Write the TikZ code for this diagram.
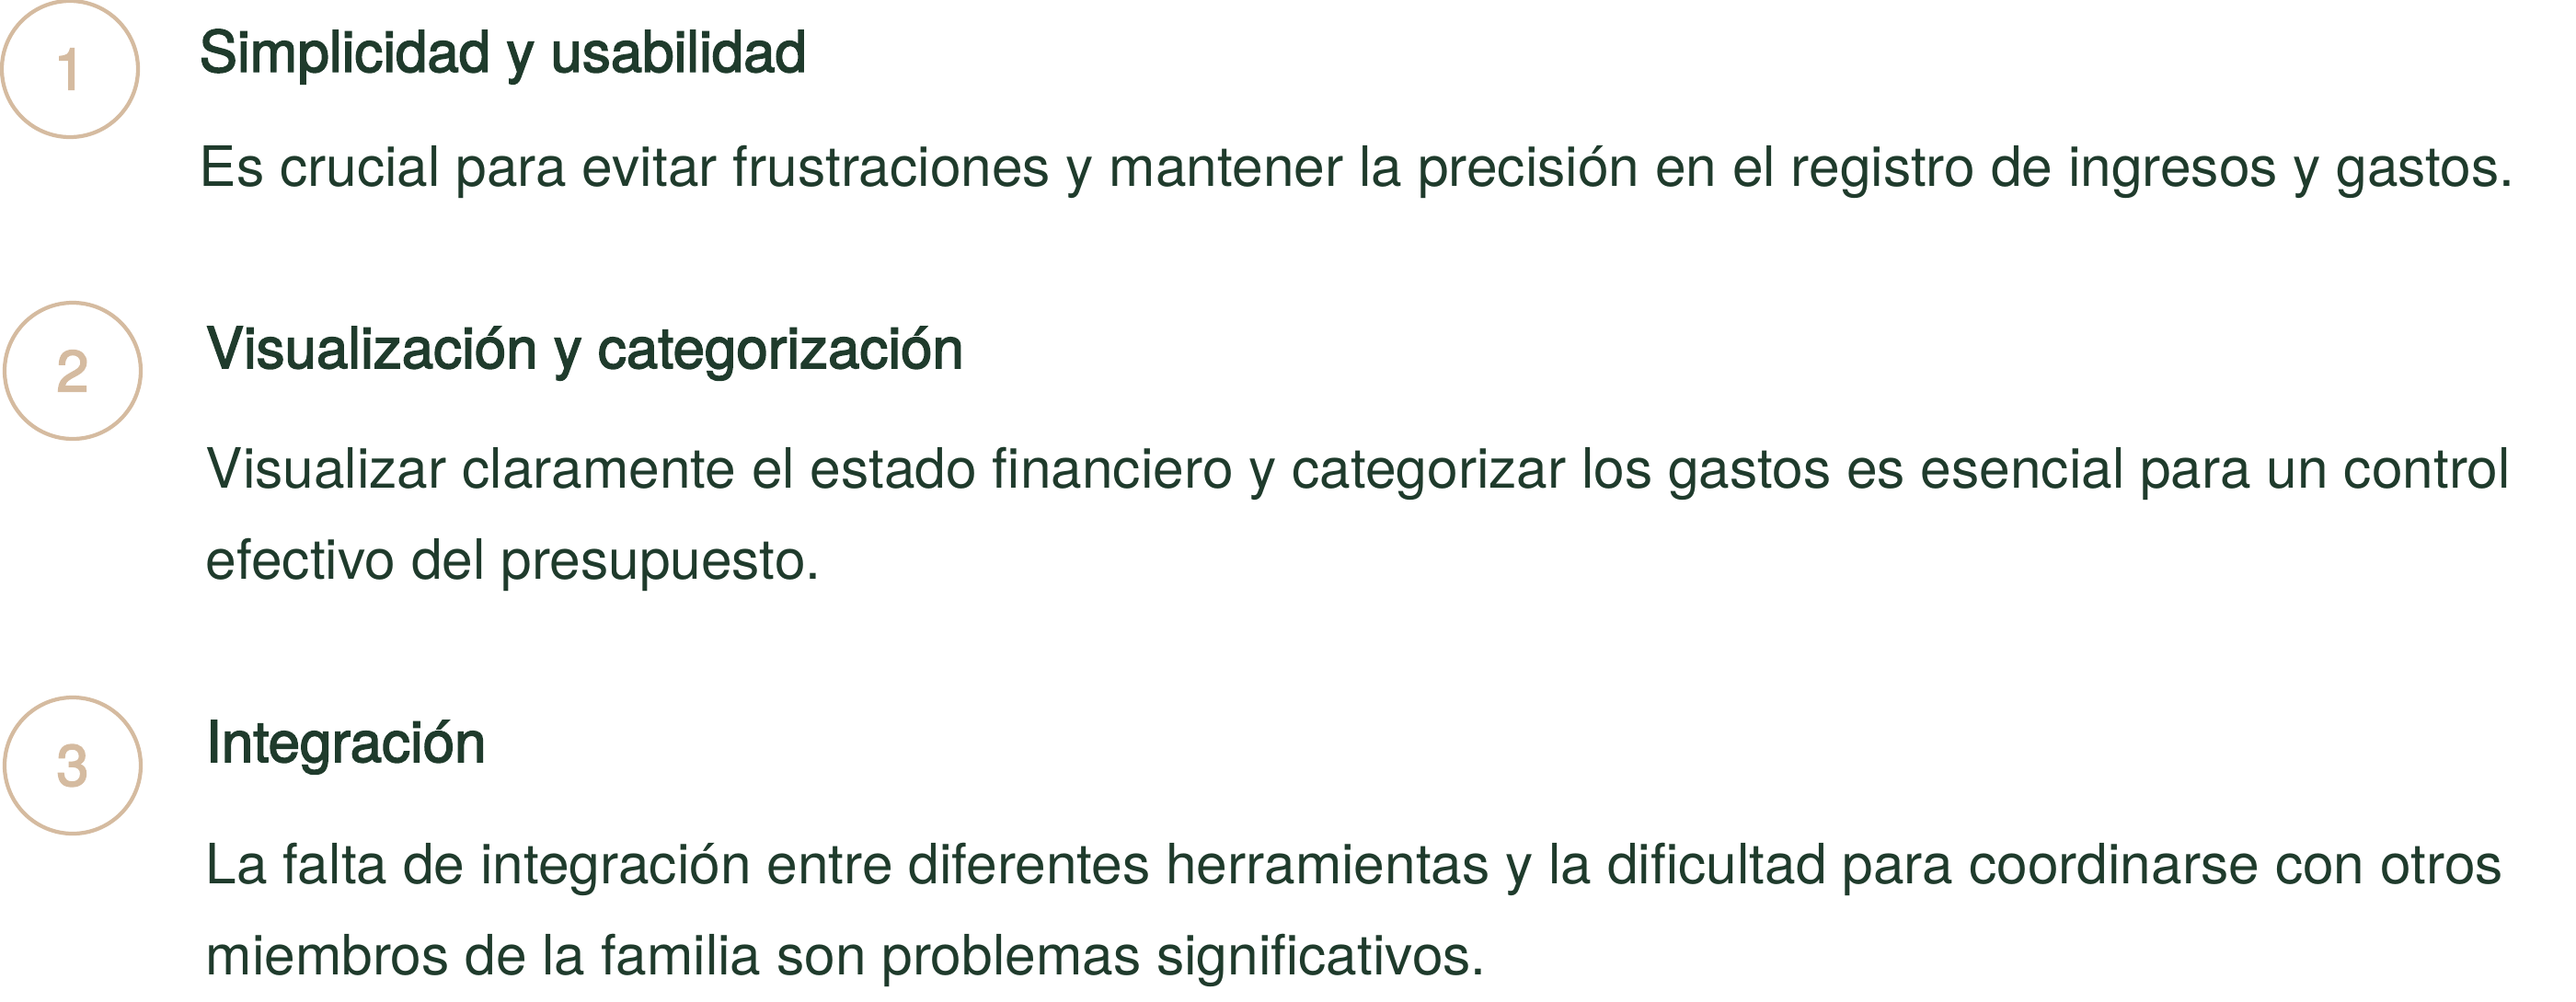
\documentclass[tikz,border=0pt]{standalone}
\usepackage{fontspec}
\setmainfont{TeX Gyre Heros}
\newfontfamily\headfont{TeX Gyre Heros}[FakeBold=2.4]
\definecolor{pine}{HTML}{1F3B2C}
\definecolor{sand}{HTML}{D5BBA0}
\begin{document}
\begin{tikzpicture}
        \tikzstyle{badge}=[circle,draw=sand,line width=1.2pt,minimum size=1.48cm,inner sep=0pt,text=sand,font=\headfont\fontsize{18}{20}\selectfont]
        \tikzstyle{title}=[anchor=base west,inner sep=0pt,text=pine,font=\headfont\fontsize{17.6}{20}\selectfont]
        \tikzstyle{body}=[anchor=base west,inner sep=0pt,text=pine,font=\fontsize{17.2}{20}\selectfont]
        \useasboundingbox (0,0) rectangle (28,-10.88);
        \fill[white] (0,0) rectangle (28,-10.88);
        \begin{scope}
           \node [badge] (n1) at (0.76,-0.75) {1};
           \node [badge] (n2) at (0.79,-4.03) {2};
           \node [badge] (n3) at (0.79,-8.32) {3};
           \node [title] (t1) at (2.16,-0.78) {Simplicidad y usabilidad};
           \node [title] (t2) at (2.23,-4.00) {Visualización y categorización};
           \node [title] (t3) at (2.23,-8.28) {Integración};
           \node [body] (b1) at (2.16,-2.02) {Es crucial para evitar frustraciones y mantener la precisión en el registro de ingresos y gastos.};
           \node [body] (b2a) at (2.23,-5.30) {Visualizar claramente el estado financiero y categorizar los gastos es esencial para un control};
           \node [body] (b2b) at (2.23,-6.29) {efectivo del presupuesto.};
           \node [body] (b3a) at (2.23,-9.60) {La falta de integración entre diferentes herramientas y la dificultad para coordinarse con otros};
           \node [body] (b3b) at (2.23,-10.59) {miembros de la familia son problemas significativos.};
        \end{scope}
      \end{tikzpicture}
\end{document}
